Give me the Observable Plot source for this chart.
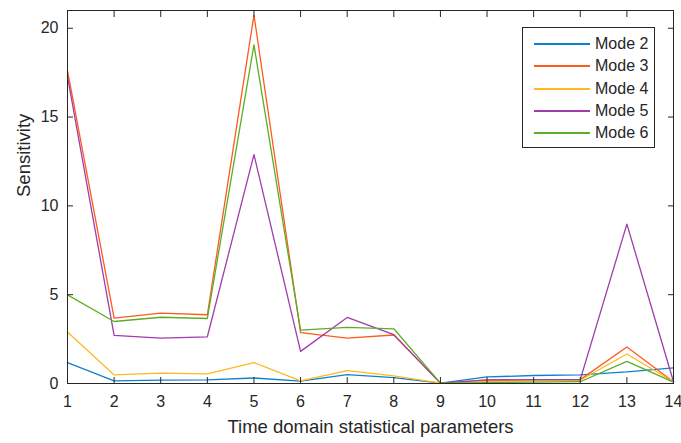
<!DOCTYPE html>
<html>
<head>
<meta charset="utf-8">
<script src="https://cdn.jsdelivr.net/npm/d3@7"></script>
<script src="https://cdn.jsdelivr.net/npm/@observablehq/plot@0.6"></script>
<style>
  html, body { margin: 0; padding: 0; background: #fff; }
  #wrap { position: relative; width: 681px; height: 443px; font-family: "Liberation Sans", Arial, Helvetica, sans-serif; color: #262626; }
  #legend { position: absolute; left: 522px; top: 27px; width: 131px; height: 119px; border: 1px solid #262626; background: #fff; box-sizing: content-box; }
  .row { position: absolute; left: 0; height: 22px; display: flex; align-items: center; font-size: 16px; }
  .sw { display: block; width: 56px; height: 2px; margin-left: 11px; margin-right: 5px; }
</style>
</head>
<body>
<div id="wrap"></div>
<script>
const params = [1, 2, 3, 4, 5, 6, 7, 8, 9, 10, 11, 12, 13, 14];
const modeNames = ["Mode 2", "Mode 3", "Mode 4", "Mode 5", "Mode 6"];
const mode2 = [1.18, 0.15, 0.19, 0.2, 0.31, 0.13, 0.5, 0.33, 0.02, 0.37, 0.45, 0.48, 0.65, 0.88];
const mode3 = [17.62, 3.68, 3.96, 3.87, 20.74, 2.86, 2.56, 2.73, 0.02, 0.19, 0.2, 0.22, 2.05, 0.1];
const mode4 = [2.9, 0.48, 0.58, 0.54, 1.18, 0.15, 0.73, 0.43, 0.02, 0.12, 0.15, 0.18, 1.66, 0.1];
const mode5 = [17.28, 2.71, 2.56, 2.63, 12.89, 1.81, 3.72, 2.75, 0.02, 0.2, 0.22, 0.22, 8.97, 0.1];
const mode6 = [4.99, 3.49, 3.73, 3.66, 19.06, 3.0, 3.16, 3.08, 0.02, 0.05, 0.08, 0.1, 1.25, 0.08];
const colors = ["#0e80d0", "#ff5a1e", "#ffb820", "#a03cac", "#5cae28"];
const yTicks = [0, 5, 10, 15, 20];
const xTitle = "Time domain statistical parameters";
const yTitle = "Sensitivity";

const seriesValues = [mode2, mode3, mode4, mode5, mode6];
const data = [];
modeNames.forEach((m, i) => {
  params.forEach((p, j) => data.push({mode: m, param: p, value: seriesValues[i][j]}));
});

const chart = Plot.plot({
  width: 681,
  height: 443,
  marginLeft: 67,
  marginRight: 8,
  marginTop: 10,
  marginBottom: 60,
  style: {fontFamily: "'Liberation Sans', Arial, Helvetica, sans-serif", fontSize: "16px", color: "#262626", background: "#fff", overflow: "visible"},
  x: {domain: [1, 14]},
  y: {domain: [0, 21]},
  color: {domain: modeNames, range: colors},
  marks: [
    Plot.line(data, {x: "param", y: "value", z: "mode", stroke: "mode", strokeWidth: 1.3}),
    Plot.frame({stroke: "#262626", strokeWidth: 1}),
    Plot.axisX(params, {anchor: "bottom", tickSize: -6, tickPadding: 18, label: null, stroke: "#262626"}),
    Plot.axisX(params, {anchor: "top", tickSize: -6, tickFormat: () => "", label: null, stroke: "#262626"}),
    Plot.axisY(yTicks, {anchor: "left", tickSize: -6, tickPadding: 15, label: null, stroke: "#262626"}),
    Plot.axisY(yTicks, {anchor: "right", tickSize: -6, tickFormat: () => "", label: null, stroke: "#262626"}),
    Plot.text([xTitle], {frameAnchor: "bottom", dy: 44, fontSize: 18.5, lineAnchor: "middle", text: d => d, fill: "#262626"}),
    Plot.text([yTitle], {frameAnchor: "left", dx: -43, rotate: -90, fontSize: 18.5, lineAnchor: "middle", text: d => d, fill: "#262626"})
  ]
});

const wrap = document.getElementById("wrap");
wrap.appendChild(chart);
const legend = document.createElement("div");
legend.id = "legend";
modeNames.forEach((m, i) => {
  const row = document.createElement("div");
  row.className = "row";
  row.style.top = (5 + i * 22.35) + "px";
  const sw = document.createElement("span");
  sw.className = "sw";
  sw.style.background = colors[i];
  const t = document.createElement("span");
  t.textContent = m;
  row.appendChild(sw);
  row.appendChild(t);
  legend.appendChild(row);
});
wrap.appendChild(legend);
</script>
</body>
</html>
